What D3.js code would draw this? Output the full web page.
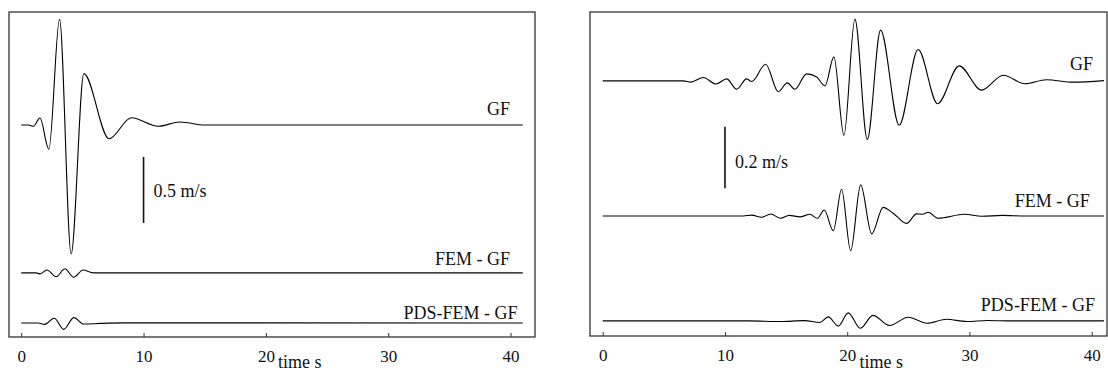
<!DOCTYPE html>
<html>
<head>
<meta charset="utf-8">
<script src="https://cdn.jsdelivr.net/npm/d3@7"></script>
<style>
body { margin: 0; background: #fff; }
svg text { font-family: "Liberation Serif", "Times New Roman", Times, serif; fill: #111; }
</style>
</head>
<body>
<div id="chart"></div>
<script>
// etiquetas de las trazas y del eje
const traceNames = ["GF", "FEM - GF", "PDS-FEM - GF"];
const xTicks = [0, 10, 20, 30, 40];
const xLabel = "time s";

// panel izquierdo (velocidad en m/s, tiempo en s)
const leftGFTime = [0, 0.6, 0.98, 1.53, 2.26, 3.13, 4.08, 5.12, 7.18, 9.0, 11.2, 12.96, 15.0, 41];
const leftGFVel  = [0, 0, -0.01, 0.053, -0.184, 0.80, -0.977, 0.389, -0.104, 0.055, -0.01, 0.023, 0, 0];
const leftFEMTime = [0, 1.2, 1.55, 2.1, 2.86, 3.57, 4.28, 5.06, 5.9, 41];
const leftFEMVel  = [0, 0, -0.008, 0.022, -0.029, 0.031, -0.033, 0.022, 0, 0];
const leftPDSTime = [0, 1.4, 1.9, 2.7, 3.47, 4.3, 5.1, 6.5, 8.5, 41];
const leftPDSVel  = [0, 0, -0.01, 0.036, -0.048, 0.041, -0.008, -0.003, 0.001, 0];

// panel derecho
const rightGFTime = [0, 6.6, 7.2, 8.23, 9.26, 10.14, 10.96, 11.77, 12.18, 13.33, 14.36, 15.1, 15.72, 16.68, 17.5,
  18.18, 18.91, 19.73, 20.63, 21.64, 22.73, 24.25, 25.8, 27.39, 29.16, 30.99, 32.76, 34.53, 36.3, 38.46, 41];
const rightGFVel  = [0, 0, -0.004, 0.011, -0.010, 0.0065, -0.027, 0.0065, -0.002, 0.054, -0.035, -0.0065, -0.027, 0.023, 0.013,
  -0.016, 0.078, -0.177, 0.201, -0.190, 0.165, -0.144, 0.102, -0.074, 0.049, -0.030, 0.0185, -0.009, 0.004, -0.004, 0.001];
const rightFEMTime = [0, 11.5, 12.18, 13.0, 13.74, 14.55, 15.26, 16.13, 16.95, 17.55, 18.12, 18.86, 19.54, 20.28, 21.1,
  22.0, 22.94, 23.76, 24.86, 25.67, 26.17, 26.62, 27.44, 29.6, 31.0, 32.7, 34.5, 41];
const rightFEMVel  = [0, 0, 0.003, -0.004, 0.0065, -0.0075, 0.002, -0.003, 0.0055, -0.0075, 0.0195, -0.048, 0.087, -0.113, 0.101,
  -0.058, 0.028, 0.009, -0.024, 0.007, 0.0055, 0.012, -0.0075, 0.0055, -0.001, 0.002, 0, 0];
const rightPDSTime = [0, 12, 14.5, 16.5, 17.77, 18.45, 19.27, 20.08, 21.07, 22.1, 23.46, 24.99, 26.54, 28.13, 29.76, 31.5, 33.5, 41];
const rightPDSVel  = [0, 0, -0.002, 0.001, -0.005, 0.013, -0.017, 0.026, -0.024, 0.018, -0.015, 0.012, -0.0075, 0.0055, -0.002, 0.0015, 0, 0];

// desplazamiento vertical de cada traza (m/s)
const leftOffsets = [0, -1.12, -1.5];
const rightOffsets = [0, -0.439, -0.78];

const W = 1108, H = 374;
const fuente = "\"Liberation Serif\", \"Times New Roman\", Times, serif";
const svg = d3.select("#chart").append("svg")
  .attr("width", W)
  .attr("height", H);

const paneles = [
  {
    left: 9, right: 535, top: 12, bottom: 337,
    xDomain: [-1, 42], yDomain: [-1.606, 0.856],
    series: [[leftGFTime, leftGFVel], [leftFEMTime, leftFEMVel], [leftPDSTime, leftPDSVel]],
    offsets: leftOffsets,
    labelT: [39.95, 39.95, 40.57], labelDy: [-10, -7.5, -4.5],
    bar: {t: 10, from: -0.242, to: -0.742, text: "0.5 m/s", textY: 197}
  },
  {
    left: 590, right: 1107, top: 12, bottom: 336,
    xDomain: [-1.04, 41.25], yDomain: [-0.829, 0.224],
    series: [[rightGFTime, rightGFVel], [rightFEMTime, rightFEMVel], [rightPDSTime, rightPDSVel]],
    offsets: rightOffsets,
    labelT: [40.1, 39.85, 40.26], labelDy: [-11, -9, -10],
    bar: {t: 10, from: -0.149, to: -0.349, text: "0.2 m/s", textY: 168}
  }
];

paneles.forEach(function (p) {
  const x = d3.scaleLinear().domain(p.xDomain).range([p.left, p.right]);
  const y = d3.scaleLinear().domain(p.yDomain).range([p.bottom, p.top]);
  const g = svg.append("g");

  //Marco
  g.append("rect")
    .attr("x", p.left)
    .attr("y", p.top)
    .attr("width", p.right - p.left)
    .attr("height", p.bottom - p.top)
    .attr("fill", "none")
    .attr("stroke", "#333")
    .attr("stroke-width", 1.3);

  //Eje X con marcas hacia dentro
  const ax = g.append("g")
    .attr("transform", "translate(0," + p.bottom + ")")
    .call(d3.axisBottom(x).tickValues(xTicks).tickSizeInner(-4).tickSizeOuter(0).tickPadding(13));
  ax.attr("font-family", fuente).attr("font-size", 17);
  ax.select(".domain").remove();
  ax.selectAll(".tick line").attr("stroke", "#333");
  ax.selectAll("text").attr("fill", "#111");

  g.append("text")
    .attr("x", x(21))
    .attr("y", H - 6)
    .style("font-size", "18px")
    .text(xLabel);

  //Trazas
  const line = d3.line()
    .x(d => x(d[0]))
    .y(d => y(d[1]))
    .curve(d3.curveMonotoneX);

  p.series.forEach(function (s, i) {
    const pts = s[0].map((t, k) => [t, s[1][k] + p.offsets[i]]);
    g.append("path")
      .attr("d", line(pts))
      .attr("fill", "none")
      .attr("stroke", "#000")
      .attr("stroke-width", 1.1);

    g.append("text")
      .attr("x", x(p.labelT[i]))
      .attr("y", y(p.offsets[i]) + p.labelDy[i])
      .attr("text-anchor", "end")
      .style("font-size", "18px")
      .text(traceNames[i]);
  });

  //Barra de escala
  g.append("line")
    .attr("x1", x(p.bar.t)).attr("x2", x(p.bar.t))
    .attr("y1", y(p.bar.from)).attr("y2", y(p.bar.to))
    .attr("stroke", "#111")
    .attr("stroke-width", 1.6);
  g.append("text")
    .attr("x", x(p.bar.t) + 10)
    .attr("y", p.bar.textY)
    .style("font-size", "18px")
    .text(p.bar.text);
});
</script>
</body>
</html>
